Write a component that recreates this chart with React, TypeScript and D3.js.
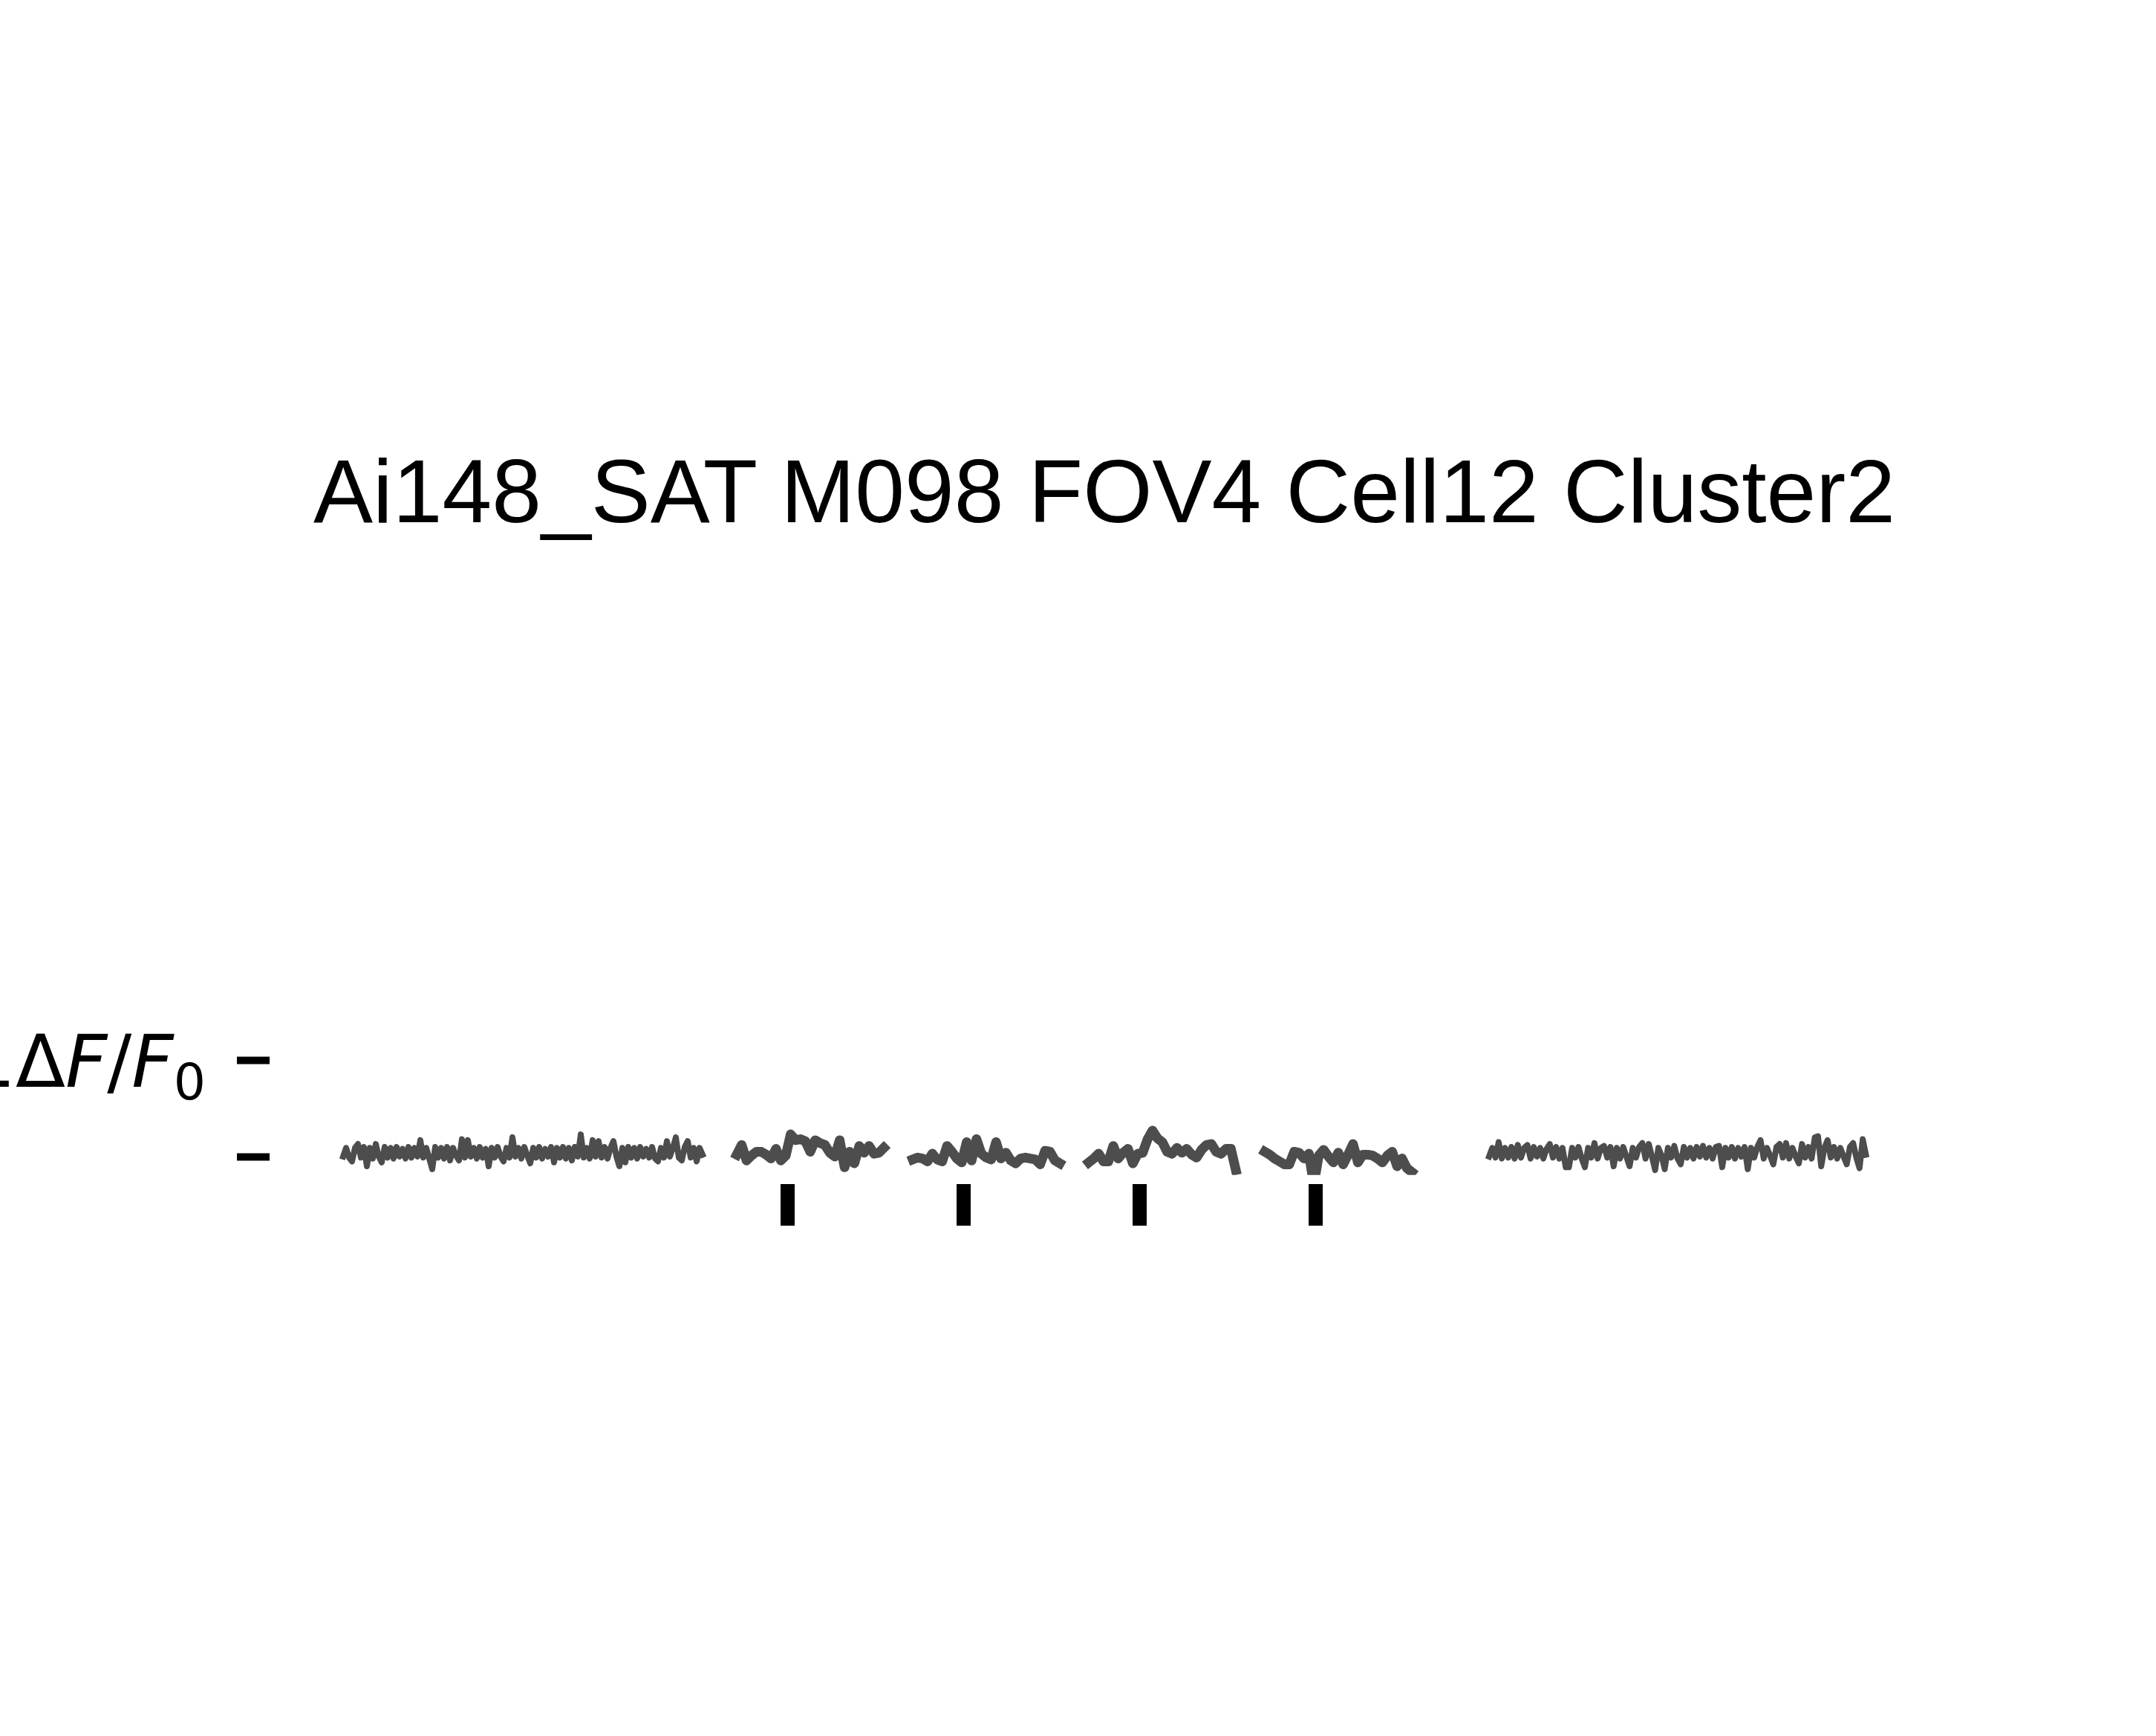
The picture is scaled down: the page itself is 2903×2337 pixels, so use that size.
import React, { useEffect, useRef } from "react";
import * as d3 from "d3";

const title = "Ai148_SAT M098 FOV4 Cell12 Cluster2";

// spontaneous activity before the stimulus block (ΔF/F0)
const baselinePre = [
  0.0, 0.09, -0.01, -0.05, 0.09, 0.13, -0.01, 0.1, -0.1, 0.09,
  -0.02, 0.13, 0.0, -0.06, 0.1, -0.01, 0.09, -0.02, 0.1, 0.0,
  0.08, -0.02, 0.1, -0.01, 0.09, 0.0, 0.17, -0.01, 0.09, -0.02,
  -0.13, 0.1, -0.01, 0.09, -0.02, 0.1, -0.04, 0.09, 0.01, -0.04,
  0.18, -0.01, 0.17, 0.0, 0.09, -0.02, 0.1, -0.01, 0.08, -0.1,
  0.09, -0.01, 0.1, 0.0, -0.05, 0.09, -0.01, 0.2, 0.0, 0.09,
  -0.02, 0.1, 0.01, -0.07, 0.09, -0.01, 0.1, -0.02, 0.08, 0.0,
  0.1, -0.06, 0.09, -0.01, 0.1, -0.02, 0.09, -0.04, 0.1, 0.0,
  0.23, -0.01, 0.09, -0.02, 0.17, 0.0, 0.16, -0.01, 0.1, -0.02,
  0.09, 0.16, 0.0, -0.1, 0.09, -0.06, 0.1, -0.01, 0.09, -0.02,
  0.1, 0.0, 0.08, -0.01, 0.1, -0.02, -0.05, 0.09, -0.01, 0.16,
  0.0, 0.09, 0.2, -0.01, -0.04, 0.1, 0.16, -0.01, 0.09, -0.05,
  0.09, 0.02,
];

// responses to the four stimulus presentations (ΔF/F0)
const trial1 = [
  0.02, 0.12, -0.04, 0.01, 0.05, 0.05, 0.02, -0.02, 0.08, -0.04,
  0.01, 0.23, 0.17, 0.18, 0.16, 0.05, 0.17, 0.14, 0.12, 0.04,
  0.0, 0.17, -0.11, 0.05, -0.07, 0.11, 0.04, 0.11, 0.03, 0.04,
  0.09,
];
const trial2 = [
  -0.03, -0.01, -0.02, -0.05, 0.03, -0.03, -0.05, 0.11, 0.05, -0.02,
  -0.06, 0.15, -0.04, 0.18, 0.03, -0.01, -0.03, 0.15, -0.02, 0.04,
  -0.04, -0.07, -0.02, -0.01, -0.02, -0.03, -0.08, 0.06, 0.05, -0.04,
  -0.07,
];
const trial3 = [
  -0.06, -0.02, 0.03, -0.05, -0.05, 0.11, -0.02, 0.04, 0.08, -0.07,
  0.03, 0.04, 0.18, 0.27, 0.19, 0.15, 0.05, 0.03, 0.09, 0.04,
  0.08, 0.02, -0.01, 0.07, 0.12, 0.13, 0.05, 0.03, 0.08, 0.08,
  -0.14,
];
const trial4 = [
  0.05, 0.02, -0.02, -0.05, -0.08, -0.08, 0.05, 0.04, -0.02, 0.03,
  -0.29, 0.01, 0.07, 0.0, -0.06, 0.04, -0.08, 0.02, 0.13, -0.06,
  0.02, 0.02, 0.01, -0.02, -0.06, 0.01, 0.05, -0.1, -0.02, -0.12,
  -0.16,
];

// spontaneous activity after the stimulus block (ΔF/F0)
const baselinePost = [
  0.0, 0.09, -0.01, 0.15, -0.02, 0.09, -0.01, 0.1, -0.02, 0.12,
  -0.01, 0.09, 0.12, -0.02, 0.1, 0.0, 0.09, -0.02, 0.08, 0.13,
  -0.01, 0.1, -0.02, 0.09, -0.11, -0.11, 0.09, -0.01, 0.1, -0.02,
  -0.11, 0.09, -0.01, 0.14, -0.02, 0.09, 0.11, -0.01, 0.1, -0.1,
  0.09, -0.02, 0.1, 0.0, -0.1, 0.09, -0.01, 0.1, 0.14, -0.02,
  0.13, 0.0, -0.14, 0.09, 0.01, -0.13, 0.09, -0.01, 0.11, -0.02,
  -0.08, 0.1, -0.01, 0.09, -0.02, 0.1, 0.0, 0.11, -0.01, 0.09,
  -0.02, 0.1, 0.11, -0.11, 0.09, -0.01, 0.1, -0.02, 0.09, 0.0,
  0.1, -0.13, 0.09, -0.01, 0.1, 0.17, -0.02, 0.09, 0.01, -0.08,
  0.1, 0.13, -0.01, 0.14, -0.02, 0.09, 0.0, -0.07, 0.13, -0.01,
  0.1, -0.02, 0.2, 0.21, -0.1, 0.09, 0.17, -0.01, 0.1, -0.02,
  0.09, 0.0, -0.08, 0.1, 0.14, -0.01, -0.12, 0.18, 0.02,
];

// segment onsets on the shared time axis and the step between samples
const segmentOnsets = [0, 530, 767, 1004, 1241, 1543];
const segmentSteps = [4, 6.6, 6.6, 6.6, 6.6, 4.3];

const stimOnsets = [598.5, 835.5, 1072.5, 1309.5];

const yTicks = [0, 1];

function App() {
  const svgRef = useRef<SVGSVGElement>(null);
  const width = 2903;
  const height = 2337;

  useEffect(() => {
    const svg = d3.select(svgRef.current);
    svg.selectAll("*").remove();

    const x = d3.scaleLinear().domain([0, 2016]).range([462, 2478]);
    const y = d3.scaleLinear().domain([0, 1]).range([1557, 1427]);
    const yMin = -0.19;

    svg
      .append("rect")
      .attr("width", width)
      .attr("height", height)
      .attr("fill", "#fff");

    svg
      .append("defs")
      .append("clipPath")
      .attr("id", "trace-clip")
      .append("rect")
      .attr("x", 0)
      .attr("y", 0)
      .attr("width", width)
      .attr("height", y(yMin));

    // title
    svg
      .append("text")
      .attr("x", 1487)
      .attr("y", 703)
      .attr("text-anchor", "middle")
      .style("font-family", "'Liberation Sans', Arial, sans-serif")
      .style("font-size", "120px")
      .attr("fill", "#000")
      .text(title);

    // traces
    const segments = [baselinePre, trial1, trial2, trial3, trial4, baselinePost];
    const lineWidths = [8, 13, 13, 13, 13, 8];
    const traces = svg.append("g").attr("clip-path", "url(#trace-clip)");

    segments.forEach((values, k) => {
      const line = d3
        .line<number>()
        .x((d, i) => x(segmentOnsets[k] + i * segmentSteps[k]))
        .y((d) => y(d));
      traces
        .append("path")
        .datum(values)
        .attr("d", line)
        .attr("fill", "none")
        .attr("stroke", "#4d4d4d")
        .attr("stroke-width", lineWidths[k])
        .attr("stroke-linejoin", "round")
        .attr("stroke-linecap", "square");
    });

    // stimulus markers
    svg
      .selectAll("rect.stim")
      .data(stimOnsets)
      .enter()
      .append("rect")
      .attr("class", "stim")
      .attr("x", (d) => x(d) - 9.5)
      .attr("y", 1594)
      .attr("width", 19)
      .attr("height", 56)
      .attr("fill", "#000");

    // y ticks (scale bar)
    const axis = svg
      .append("g")
      .attr("transform", "translate(363, 0)")
      .call(
        d3
          .axisLeft(y)
          .tickValues(yTicks)
          .tickSize(44)
          .tickFormat(() => "")
      );
    axis.select(".domain").remove();
    axis.selectAll("line").attr("stroke", "#000").attr("stroke-width", 10);

    // label of the upper tick
    const label = svg
      .append("text")
      .attr("x", 277)
      .attr("y", y(1) + 36)
      .attr("text-anchor", "end")
      .style("font-family", "'DejaVu Sans', sans-serif")
      .style("font-size", "98px")
      .attr("fill", "#000");
    label.append("tspan").text("1Δ");
    label.append("tspan").style("font-style", "italic").text("F");
    label.append("tspan").text("/");
    label.append("tspan").style("font-style", "italic").text("F");
    label.append("tspan").attr("dy", 17).style("font-size", "68px").text("0");
  }, []);

  return (
    <svg
      ref={svgRef}
      width={width}
      height={height}
      style={{ position: "absolute", left: 0, top: 0, display: "block" }}
    ></svg>
  );
}

export default App;
